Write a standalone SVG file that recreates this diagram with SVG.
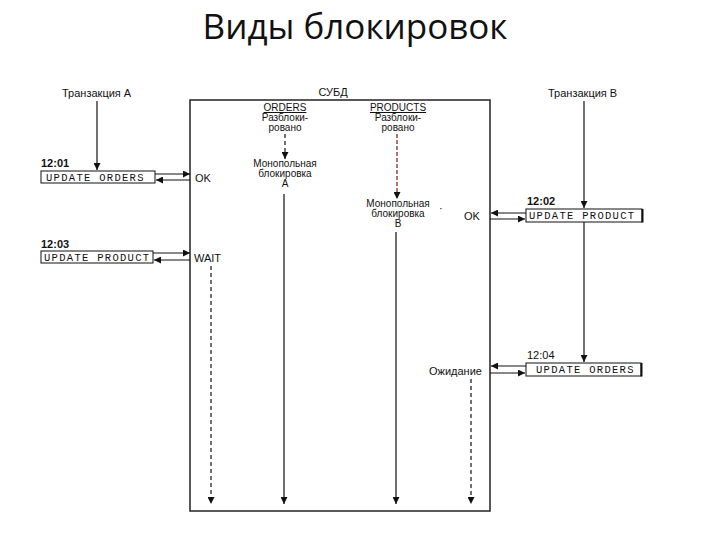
<svg xmlns="http://www.w3.org/2000/svg" width="720" height="540" viewBox="0 0 720 540">
<defs>
<style>
.t{font-family:"Liberation Sans",Arial,sans-serif;font-size:11px;fill:#111}
.s{font-size:10px}
.c{text-anchor:middle}
.m{font-family:"Liberation Mono","Courier New",monospace;font-size:10.5px;letter-spacing:1.3px;fill:#111}
.ln{stroke:#111;stroke-width:1.2;fill:none}
.ds{stroke:#111;stroke-width:1.2;fill:none;stroke-dasharray:4,3}
.dr{stroke:#8a3a2a;stroke-width:1.4;fill:none;stroke-dasharray:4,2}
.bx{fill:#fff;stroke:#111;stroke-width:1}
</style>
<marker id="ah" viewBox="0 0 10 10" refX="10" refY="5" markerWidth="7" markerHeight="7" orient="auto" markerUnits="userSpaceOnUse">
<path d="M0,0 L10,5 L0,10 z" fill="#111"/>
</marker>
</defs>
<rect width="720" height="540" fill="#fff"/>
<text x="355" y="39" text-anchor="middle" style="font-family:'Open Sans','Liberation Sans',sans-serif;font-size:35px;fill:#111">Виды блокировок</text>

<g id="dbms">
<rect x="190" y="100" width="300" height="411" fill="none" stroke="#222" stroke-width="1.5"/>
<text class="t c" x="333" y="96">СУБД</text>
</g>

<g id="orders">
<text class="t s c" x="285" y="111" style="text-decoration:underline">ORDERS</text>
<text class="t s c" x="285" y="121">Разблоки-</text>
<text class="t s c" x="285" y="131">ровано</text>
<text class="t s c" x="285" y="167">Монопольная</text>
<text class="t s c" x="285" y="177">блокировка</text>
<text class="t s c" x="285" y="187">А</text>
</g>
<g id="products">
<text class="t s c" x="398" y="111" style="text-decoration:underline">PRODUCTS</text>
<text class="t s c" x="398" y="121">Разблоки-</text>
<text class="t s c" x="398" y="131">ровано</text>
<text class="t s c" x="398" y="207">Монопольная</text>
<text class="t s c" x="398" y="217">блокировка</text>
<text class="t s c" x="398" y="227">В</text>
</g>

<g id="transA">
<text class="t" x="62" y="97">Транзакция А</text>
</g>
<g id="transB">
<text class="t" x="548" y="97">Транзакция В</text>
</g>

<g id="box1201">
<text class="t" x="41" y="167" style="font-weight:bold">12:01</text>
<rect class="bx" x="41" y="171" width="114" height="12"/>
<text class="m" x="46" y="180.5">UPDATE ORDERS</text>
</g>
<g id="box1203">
<text class="t" x="41" y="248" style="font-weight:bold">12:03</text>
<rect class="bx" x="41" y="251" width="112" height="12"/>
<text class="m" x="44" y="260.5">UPDATE PRODUCT</text>
</g>
<g id="box1202">
<text class="t" x="527" y="205" style="font-weight:bold">12:02</text>
<rect class="bx" x="526" y="209" width="116" height="13"/>
<line x1="642.5" y1="209" x2="642.5" y2="222.5" stroke="#111" stroke-width="2"/>
<text class="m" x="529" y="219">UPDATE PRODUCT</text>
</g>
<g id="box1204">
<text class="t" x="527" y="359">12:04</text>
<rect class="bx" x="526" y="363" width="115" height="13"/>
<line x1="641.5" y1="363" x2="641.5" y2="376.5" stroke="#111" stroke-width="2"/>
<text class="m" x="536" y="373">UPDATE ORDERS</text>
</g>

<g id="labels">
<text class="t" x="195" y="182">OK</text>
<text class="t" x="194" y="262">WAIT</text>
<text class="t" x="464" y="220">OK</text>
<text class="t" x="429" y="375">Ожидание</text>
<text class="t" x="439" y="212">·</text>
</g>

<g id="connectors">
<line class="ln" x1="97" y1="101" x2="97" y2="170" marker-end="url(#ah)"/>
<line class="ln" x1="155" y1="174" x2="190" y2="174" marker-end="url(#ah)"/>
<line class="ln" x1="190" y1="180" x2="156" y2="180" marker-end="url(#ah)"/>
<line class="ln" x1="153" y1="253" x2="190" y2="253" marker-end="url(#ah)"/>
<line class="ln" x1="190" y1="260" x2="154" y2="260" marker-end="url(#ah)"/>
<line class="ds" x1="211" y1="266" x2="211" y2="504" marker-end="url(#ah)"/>
<line class="ds" x1="285" y1="134" x2="285" y2="159" marker-end="url(#ah)"/>
<line class="ln" x1="284" y1="194" x2="284" y2="504" marker-end="url(#ah)"/>
<line class="dr" x1="397" y1="134" x2="397" y2="199" marker-end="url(#ah)"/>
<line class="ln" x1="396" y1="232" x2="396" y2="504" marker-end="url(#ah)"/>
<line class="ln" x1="584" y1="101" x2="584" y2="208" marker-end="url(#ah)"/>
<line class="ln" x1="526" y1="213" x2="491" y2="213" marker-end="url(#ah)"/>
<line class="ln" x1="490" y1="219" x2="525" y2="219" marker-end="url(#ah)"/>
<line class="ln" x1="584" y1="222" x2="584" y2="362" marker-end="url(#ah)"/>
<line class="ln" x1="526" y1="366" x2="491" y2="366" marker-end="url(#ah)"/>
<line class="ln" x1="490" y1="373" x2="525" y2="373" marker-end="url(#ah)"/>
<line class="ds" x1="471" y1="379" x2="471" y2="504" marker-end="url(#ah)"/>
</g>
</svg>
